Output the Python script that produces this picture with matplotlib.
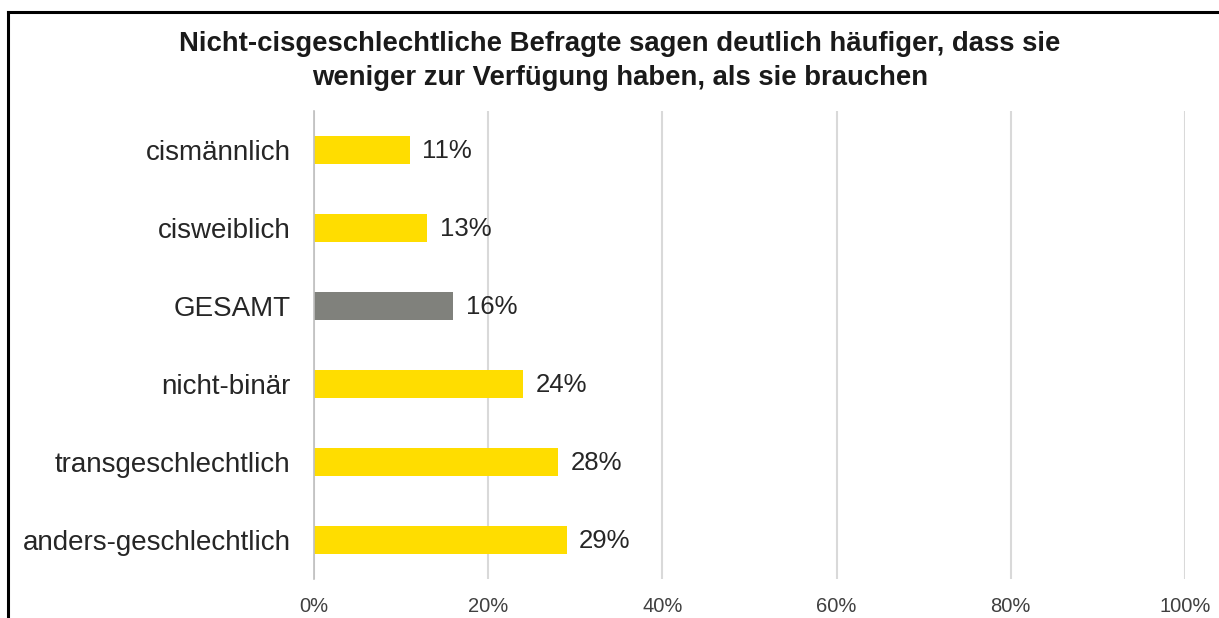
import matplotlib
matplotlib.use("Agg")
import matplotlib.pyplot as plt
from matplotlib.lines import Line2D
from matplotlib.ticker import PercentFormatter

plt.rcParams["font.family"] = ["Liberation Sans", "DejaVu Sans"]

# data (top to bottom as shown)
categories = ["cismännlich", "cisweiblich", "GESAMT", "nicht-binär",
              "transgeschlechtlich", "anders-geschlechtlich"]
values = [0.11, 0.13, 0.16, 0.24, 0.28, 0.29]
labels = ["11%", "13%", "16%", "24%", "28%", "29%"]
highlight = "GESAMT"
xticks = [0, 0.2, 0.4, 0.6, 0.8, 1.0]

title = ("Nicht-cisgeschlechtliche Befragte sagen deutlich häufiger, dass sie\n"
         "weniger zur Verfügung haben, als sie brauchen")

YELLOW = "#FFDD00"
GREY = "#80817C"

fig = plt.figure(figsize=(12.19, 6.18), dpi=100)
ax = fig.add_axes([0.2576, 0.0631, 0.9721 - 0.2576, 0.8204 - 0.0631])

ypos = list(range(len(categories)))
colors = [GREY if c == highlight else YELLOW for c in categories]
ax.barh(ypos, values, height=0.35, color=colors, zorder=3)

for y, v, lab in zip(ypos, values, labels):
    ax.annotate(lab, (v, y), xytext=(9, -1), textcoords="offset points",
                va="center", ha="left", fontsize=18.5, color="#262626")

ax.set_ylim(len(categories) - 0.5, -0.5)
ax.set_xlim(0, 1.0)
ax.set_yticks(ypos)
ax.set_yticklabels(categories, fontsize=20, color="#262626")
ax.set_xticks(xticks)
ax.xaxis.set_major_formatter(PercentFormatter(1.0, decimals=0))
ax.tick_params(axis="x", labelsize=14.5, colors="#404040", length=0, pad=13)
ax.tick_params(axis="y", length=0, pad=17)
ax.grid(True, axis="x", color="#D9D9D9", linewidth=1.5, zorder=0)
for s in ["top", "right", "bottom"]:
    ax.spines[s].set_visible(False)
ax.spines["left"].set_color("#BFBFBF")
ax.spines["left"].set_linewidth(1.2)
ax.spines["left"].set_zorder(4)

fig.text(620 / 1219, 1 - 61 / 618, title, ha="center", va="center",
         fontsize=19.8, fontweight="bold", color="#1a1a1a", linespacing=1.36)

# frame lines (left and top, like the cropped screenshot)
fig.add_artist(Line2D([8 / 1219, 8 / 1219], [0, 1 - 12 / 618],
                      transform=fig.transFigure, color="black", linewidth=2.2))
fig.add_artist(Line2D([8 / 1219, 1], [1 - 12 / 618, 1 - 12 / 618],
                      transform=fig.transFigure, color="black", linewidth=2.2))

fig.savefig("out.png", dpi=100)
